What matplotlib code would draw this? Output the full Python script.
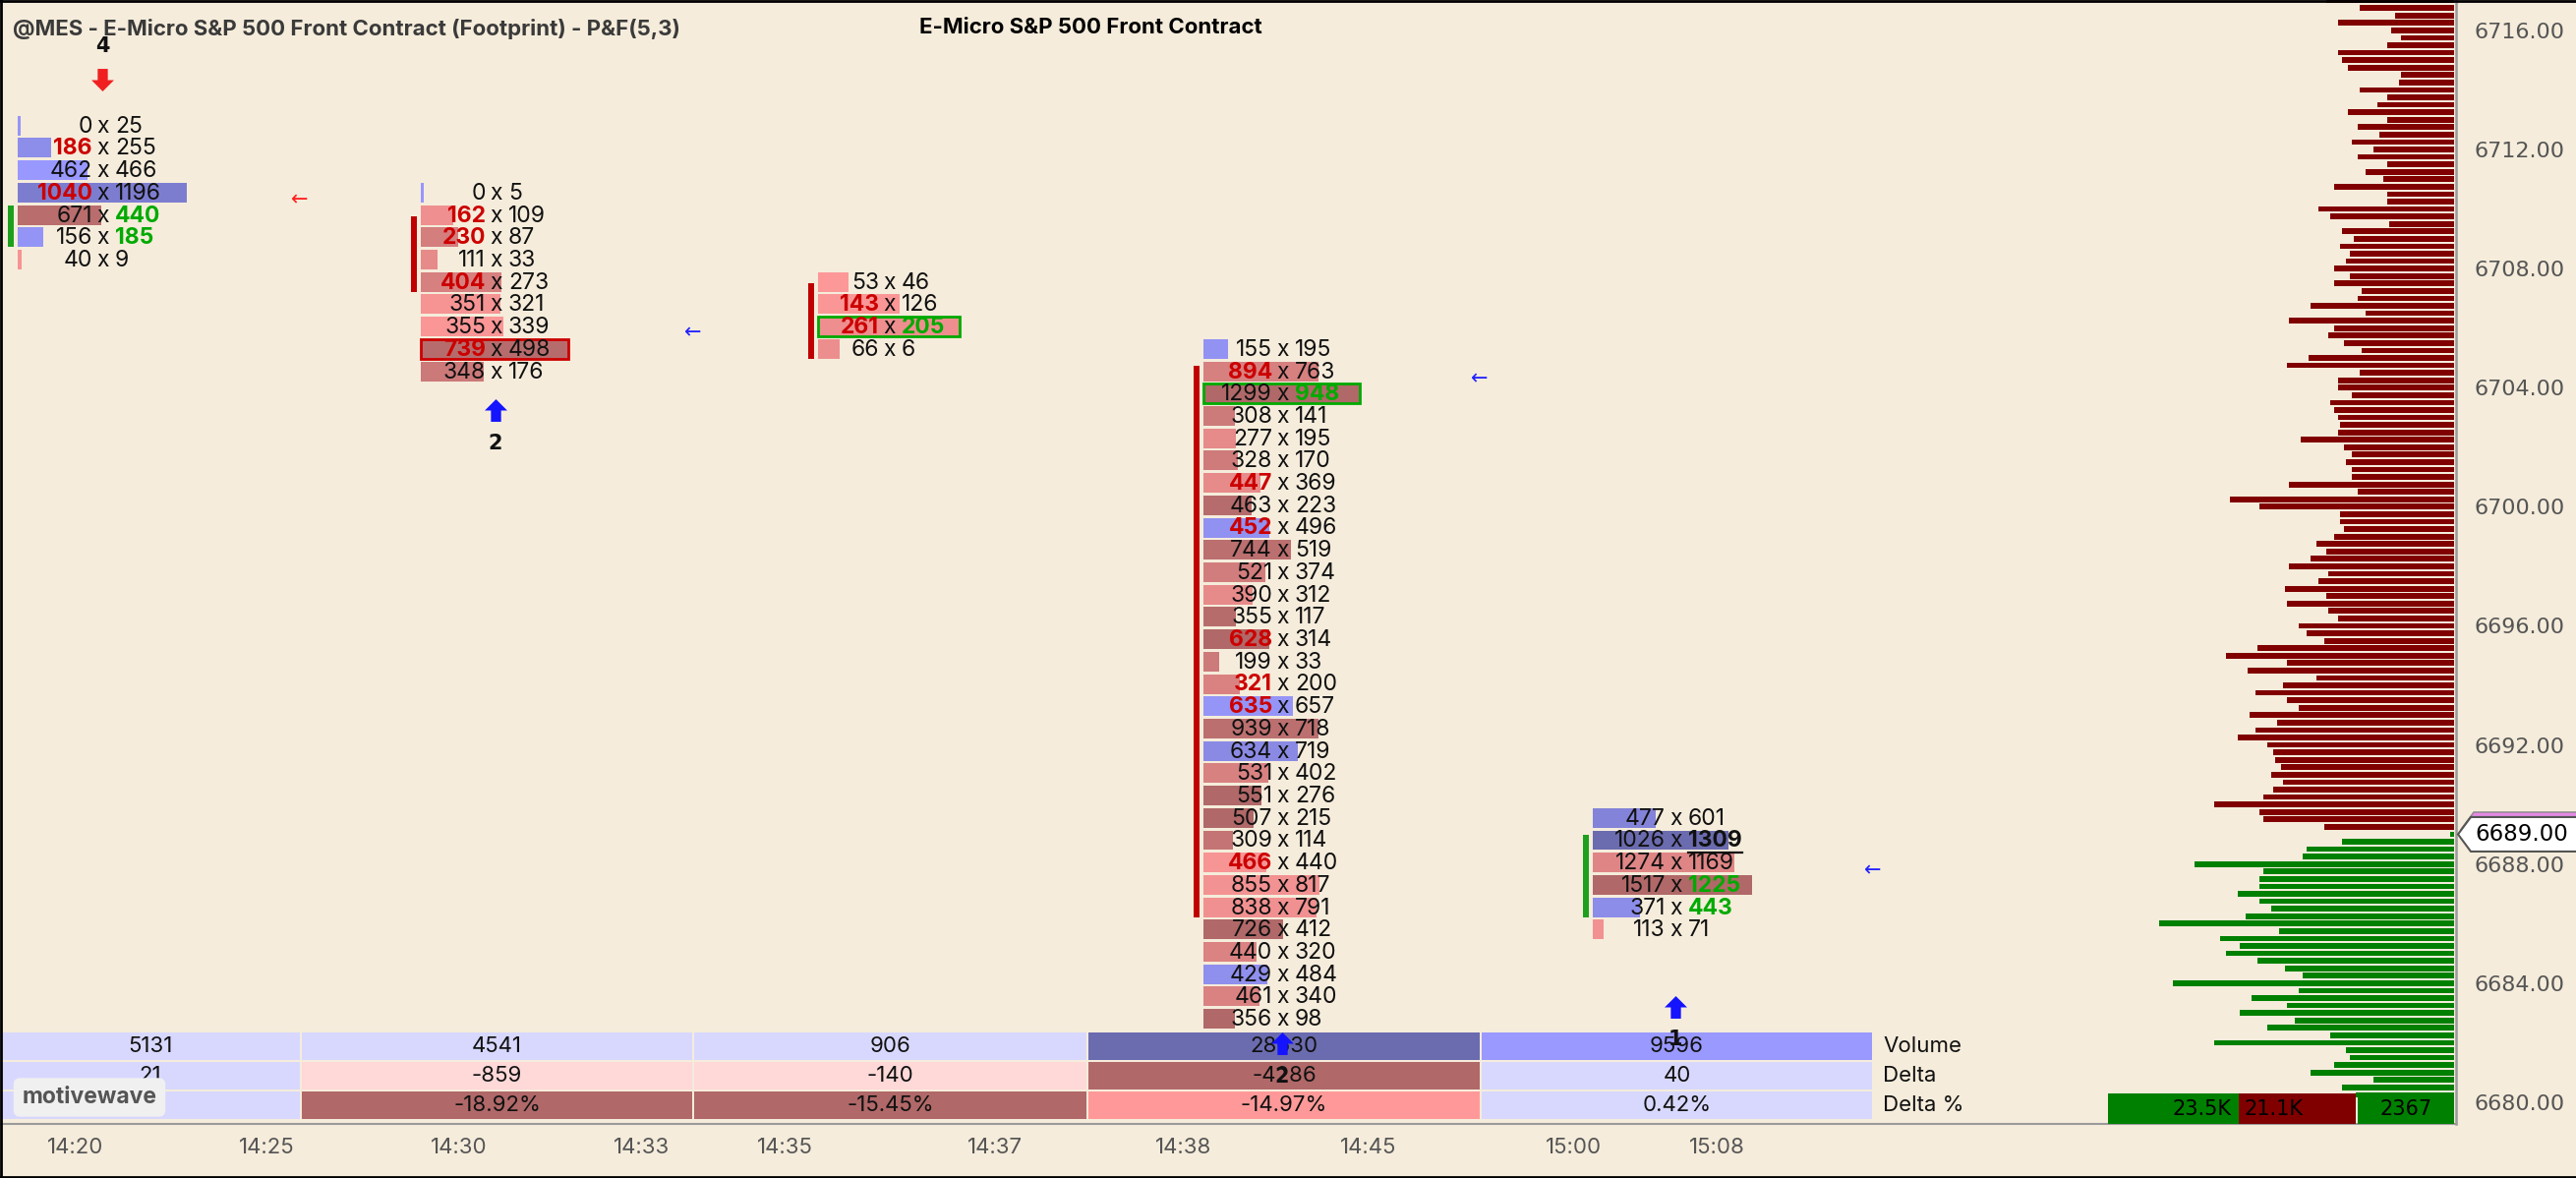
import numpy as np
import matplotlib.pyplot as plt
from matplotlib.patches import Rectangle, Polygon
from matplotlib.path import Path
from matplotlib.lines import Line2D

BG = '#f5ecdb'
FP_FONT = 'Inter'

# footprint columns: bid x ask per price row, top row first
bid_1 = [0, 186, 462, 1040, 671, 156, 40]
ask_1 = [25, 255, 466, 1196, 440, 185, 9]
bid_2 = [0, 162, 230, 111, 404, 351, 355, 739, 348]
ask_2 = [5, 109, 87, 33, 273, 321, 339, 498, 176]
bid_3 = [53, 143, 261, 66]
ask_3 = [46, 126, 205, 6]
bid_4 = [155, 894, 1299, 308, 277, 328, 447, 463, 452, 744, 521, 390, 355, 628, 199,
         321, 635, 939, 634, 531, 551, 507, 309, 466, 855, 838, 726, 440, 429, 461, 356]
ask_4 = [195, 763, 948, 141, 195, 170, 369, 223, 496, 519, 374, 312, 117, 314, 33,
         200, 657, 718, 719, 402, 276, 215, 114, 440, 817, 791, 412, 320, 484, 340, 98]
bid_5 = [477, 1026, 1274, 1517, 371, 113]
ask_5 = [601, 1309, 1169, 1225, 443, 71]
bids = [bid_1, bid_2, bid_3, bid_4, bid_5]
asks = [ask_1, ask_2, ask_3, ask_4, ask_5]
top_price = [6712.80, 6710.55, 6707.55, 6705.30, 6689.55]

# imbalance highlights (row indexes)
red_bid = [[1, 3], [1, 2, 4, 7], [1, 2], [1, 6, 8, 13, 15, 16, 23], []]
green_ask = [[4, 5], [], [2], [2], [3, 4]]
bold_ask = [[], [], [], [], [1]]
poc_box = ['', '#cc0000', '#00aa00', '#00aa00', '']
vbar_span = [(4.0, 5), (1.5, 4), (0.5, 3), (1.2, 25), (1.2, 4)]
vbar_up = [True, False, False, False, True]

# signal arrows
sig_col = [0, 1, 3, 4]
sig_price = [6714.33, 6703.24, 6681.97, 6683.21]
sig_dir = ['down', 'up', 'up', 'up']
sig_label = ['4', '2', '2', '1']

mark_col = [0, 1, 3, 4]
mark_price = [6710.31, 6705.84, 6704.29, 6687.78]
mark_color = ['#ff2020', '#2222ff', '#2222ff', '#2222ff']

times = ['14:20', '14:25', '14:30', '14:33', '14:35', '14:37', '14:38', '14:45', '15:00', '15:08']

# volume profile, 0.25 steps from 6717.00 down
prof_top = 6717.00
prof_vol = [390, 288, 180, 354, 192, 162, 204, 354, 342, 324,
            162, 168, 288, 204, 234, 324, 204, 294, 228, 312,
            246, 294, 204, 270, 216, 366, 204, 204, 414, 378,
            198, 342, 306, 348, 318, 330, 366, 318, 366, 282,
            294, 438, 270, 504, 366, 384, 336, 282, 444, 510,
            288, 354, 354, 312, 378, 366, 354, 348, 354, 468,
            336, 312, 330, 312, 312, 504, 294, 684, 594, 348,
            348, 336, 366, 420, 390, 438, 504, 384, 414, 516,
            390, 510, 384, 354, 474, 450, 396, 600, 696, 510,
            630, 420, 522, 606, 510, 474, 624, 540, 606, 660,
            570, 552, 546, 528, 558, 522, 552, 582, 732, 594,
            582, 396,
            12, 342, 450, 462, 792, 582, 594, 594, 660, 594,
            558, 636, 900, 534, 714, 654, 696, 600, 516, 462,
            858, 474, 618, 510, 654, 486, 570, 378, 732, 330,
            318, 366, 438, 246, 342, 300]
last_price = 6689.00
prof_buy, prof_sell, prof_delta = 23500, 21100, 2367

# layout (pixels)
W, H = 2620, 1198
AX_W, AX_H = 2498, 1143
Y_TOP = 6717.02
PX_PT = 30.28
Y_BOT = Y_TOP - AX_H / PX_PT
ROW, BAR_H = 0.75, 0.66
bar_x0 = [18, 428, 832, 1224, 1620]
bar_wmax = [172, 150, 144, 159, 162]
text_x = [105, 505, 905, 1305, 1705]
time_pos = [77, 271, 467, 653, 798, 1012, 1204, 1392, 1601, 1746]
tbl_edges = [0, 306, 705, 1106, 1506, 1905]
tbl_rows = [(1050, 1078), (1080, 1108), (1110, 1138)]


def py(ypx):
    return Y_TOP - ypx / PX_PT


def mix(light, dark, t):
    return tuple((l + (d - l) * t) / 255 for l, d in zip(light, dark))


def fp_color(b, a):
    d = a - b
    t = min(abs(d) / 260, 1.0)
    if d > 0:
        return mix((153, 153, 255), (107, 107, 176), t)
    return mix((255, 153, 153), (176, 104, 104), t)


fig = plt.figure(figsize=(W / 100, H / 100), dpi=100, facecolor=BG)
ax = fig.add_axes([0, (H - AX_H) / H, AX_W / W, AX_H / H])
ax.set_facecolor(BG)
ax.set_xlim(0, AX_W)
ax.set_ylim(Y_BOT, Y_TOP)

# footprint columns
for c in range(5):
    b = np.array(bids[c])
    a = np.array(asks[c])
    tot = b + a
    n = len(b)
    prices = top_price[c] - np.arange(n) * ROW
    widths = np.maximum(tot / tot.max() * bar_wmax[c], 3)
    cols = [fp_color(bb, aa) for bb, aa in zip(b, a)]
    ax.barh(prices, widths, left=bar_x0[c], height=BAR_H, color=cols, zorder=2)
    if poc_box[c]:
        k = int(np.argmax(tot))
        ax.add_patch(Rectangle((bar_x0[c], prices[k] - BAR_H / 2), bar_wmax[c], BAR_H,
                               fill=False, ec=poc_box[c], lw=2, zorder=3))
    s, e = vbar_span[c]
    ytop = top_price[c] - s * ROW + BAR_H / 2
    ybot = top_price[c] - e * ROW - BAR_H / 2
    ax.bar(bar_x0[c] - 7, ytop - ybot, bottom=ybot, width=6,
           color='#1ea01e' if vbar_up[c] else '#c00000', zorder=2)
    for i in range(n):
        yt = prices[i] - 0.03
        rb = i in red_bid[c]
        ax.text(text_x[c] - 11, yt, str(b[i]), ha='right', va='center', fontsize=16.5,
                family=FP_FONT, color='#cc0000' if rb else '#111111',
                fontweight='bold' if rb else 'normal', zorder=4)
        ax.text(text_x[c], yt, 'x', ha='center', va='center', fontsize=16.5,
                family=FP_FONT, color='#111111', zorder=4)
        ga = i in green_ask[c]
        ba = i in bold_ask[c]
        t = ax.text(text_x[c] + 12, yt, str(a[i]), ha='left', va='center', fontsize=16.5,
                    family=FP_FONT, color='#00aa00' if ga else '#111111',
                    fontweight='bold' if (ga or ba) else 'normal', zorder=4)
        if ba:
            fig.canvas.draw()
            bb = t.get_window_extent().transformed(ax.transData.inverted())
            ax.plot([bb.x0, bb.x1], [prices[i] - 0.40, prices[i] - 0.40],
                    color='#111111', lw=1.6, zorder=4)

# small markers
for c, p, col in zip(mark_col, mark_price, mark_color):
    ax.text(text_x[c] + 200, p, '\u2190', ha='center', va='center', fontsize=15,
            color=col, family='DejaVu Sans', zorder=4)

# volume profile
pp = prof_top - np.arange(len(prof_vol)) * 0.25
pv = np.array(prof_vol) / 3.0
pcol = ['#800000' if p > last_price else '#008000' for p in pp]
ax.barh(pp, pv, left=2496 - pv, height=0.19, color=pcol, zorder=2)

tot_bs = prof_buy + prof_sell
wb = 252 * prof_buy / tot_bs
ws = 252 * prof_sell / tot_bs
yb0, yb1 = Y_BOT, py(1112)
ax.add_patch(Rectangle((2144, yb0), wb, yb1 - yb0, fc='#008000', ec='none', zorder=5))
ax.add_patch(Rectangle((2144 + wb, yb0), ws, yb1 - yb0, fc='#800000', ec='none', zorder=5))
ax.add_patch(Rectangle((2398, yb0), 98, yb1 - yb0, fc='#008000', ec='none', zorder=5))
ym = (yb0 + yb1) / 2
ax.text(2144 + wb - 7, ym, f'{prof_buy / 1000:.1f}K', ha='right', va='center',
        fontsize=15, color='black', zorder=6)
ax.text(2144 + wb + 6, ym, f'{prof_sell / 1000:.1f}K', ha='left', va='center',
        fontsize=15, color='black', zorder=6)
ax.text(2447, ym, str(prof_delta), ha='center', va='center', fontsize=15,
        color='black', zorder=6)

# summary table
vol = [int(np.sum(b) + np.sum(a)) for b, a in zip(bids, asks)]
dlt = [int(np.sum(a) - np.sum(b)) for b, a in zip(bids, asks)]
pct = [d / v * 100 for d, v in zip(dlt, vol)]
row_txt = [[str(v) for v in vol], [str(d) for d in dlt], [f'{p:.2f}%' for p in pct]]
row_txt[2][0] = ''  # hidden under the logo in the source chart
row_col = [['#d8d8ff', '#d8d8ff', '#d8d8ff', '#6b6bb0', '#9999ff'],
           ['#d8d8ff', '#ffd8d8', '#ffd8d8', '#b06868', '#d8d8ff'],
           ['#d8d8ff', '#b06868', '#b06868', '#ff9999', '#d8d8ff']]
row_name = ['Volume', 'Delta', 'Delta %']
for r, (y0, y1) in enumerate(tbl_rows):
    for c in range(5):
        xl = tbl_edges[c] + (1 if c else 0)
        xr = tbl_edges[c + 1] - 1
        ax.add_patch(Rectangle((xl, py(y1)), xr - xl, py(y0) - py(y1),
                               fc=row_col[r][c], ec='none', zorder=5))
        ax.text((tbl_edges[c] + tbl_edges[c + 1]) / 2, py((y0 + y1) / 2), row_txt[r][c],
                ha='center', va='center', fontsize=16, family=FP_FONT,
                color='#111111', zorder=6)
    ax.text(1915, py((y0 + y1) / 2), row_name[r], ha='left', va='center', fontsize=16,
            family=FP_FONT, color='#111111', zorder=6)

# signal arrows
up_path = Path([(-0.45, -1), (0.45, -1), (0.45, 0), (1, 0), (0, 1), (-1, 0),
                (-0.45, 0), (-0.45, -1)], closed=True)
down_path = Path([(x, -y) for x, y in up_path.vertices], closed=True)
for c, p, d, lab in zip(sig_col, sig_price, sig_dir, sig_label):
    x = text_x[c] - 1
    if d == 'up':
        ax.plot([x], [p], marker=up_path, ms=16.5, color='#1414ff', mec='none', zorder=7)
        ax.text(x, p - 1.1, lab, ha='center', va='center', fontsize=15,
                fontweight='bold', color='#111111', zorder=8)
    else:
        ax.plot([x], [p], marker=down_path, ms=16.5, color='#f02020', mec='none', zorder=7)
        ax.text(x, p + 1.13, lab, ha='center', va='center', fontsize=15,
                fontweight='bold', color='#111111', zorder=8)

# logo
ax.text(91, py(1116), 'motivewave', ha='center', va='center', fontsize=16.5,
        fontweight='bold', family=FP_FONT, color='#555555', zorder=9,
        bbox=dict(boxstyle='round,pad=0.38,rounding_size=0.3', fc='#f0f0f0', ec='none'))

# axes styling
ax.yaxis.tick_right()
ticks = np.arange(6680, 6717, 4)
ax.set_yticks(ticks)
ax.set_yticklabels([f'{t:.2f}' for t in ticks])
ax.tick_params(axis='y', length=0, pad=13.5, labelsize=16, labelcolor='#555555')
ax.set_xticks(time_pos)
ax.set_xticklabels(times, family=FP_FONT)
ax.tick_params(axis='x', length=0, pad=10, labelsize=16, labelcolor='#555555')
for s in ['top', 'left']:
    ax.spines[s].set_visible(False)
ax.spines['right'].set_color('#9a9a9a')
ax.spines['right'].set_linewidth(1.8)
ax.spines['bottom'].set_color('#9a9a9a')
ax.spines['bottom'].set_linewidth(1.5)

# current price tag
hh = 17.5 / PX_PT
tag = [(2500, last_price), (2513, last_price + hh), (2625, last_price + hh),
       (2625, last_price - hh), (2513, last_price - hh)]
pink = [(x + 3, y + 5 / PX_PT) for x, y in tag]
ax.add_patch(Polygon(pink, closed=True, fc='#e58ae5', ec='#888888', lw=1, clip_on=False, zorder=10))
ax.add_patch(Polygon(tag, closed=True, fc='white', ec='#555555', lw=1.5, clip_on=False, zorder=11))
ax.text(2517, last_price, f'{last_price:.2f}', ha='left', va='center', fontsize=16.5,
        color='black', clip_on=False, zorder=12)

# titles
fig.text(13 / W, 1 - 30 / H, '@MES - E-Micro S&P 500 Front Contract (Footprint) - P&F(5,3)',
         ha='left', va='center', fontsize=16, fontweight='bold', family=FP_FONT, color='#3a3a3a')
fig.text(1109 / W, 1 - 28 / H, 'E-Micro S&P 500 Front Contract', ha='center', va='center',
         fontsize=16, fontweight='bold', family=FP_FONT, color='black')

# frame
for xs, ys in [([0, 1], [0.999, 0.999]), ([0.0005, 0.0005], [0, 1]), ([0, 1], [0.001, 0.001])]:
    fig.add_artist(Line2D(xs, ys, transform=fig.transFigure, color='black', lw=2))

fig.savefig('out.png', dpi=100, facecolor=BG)
